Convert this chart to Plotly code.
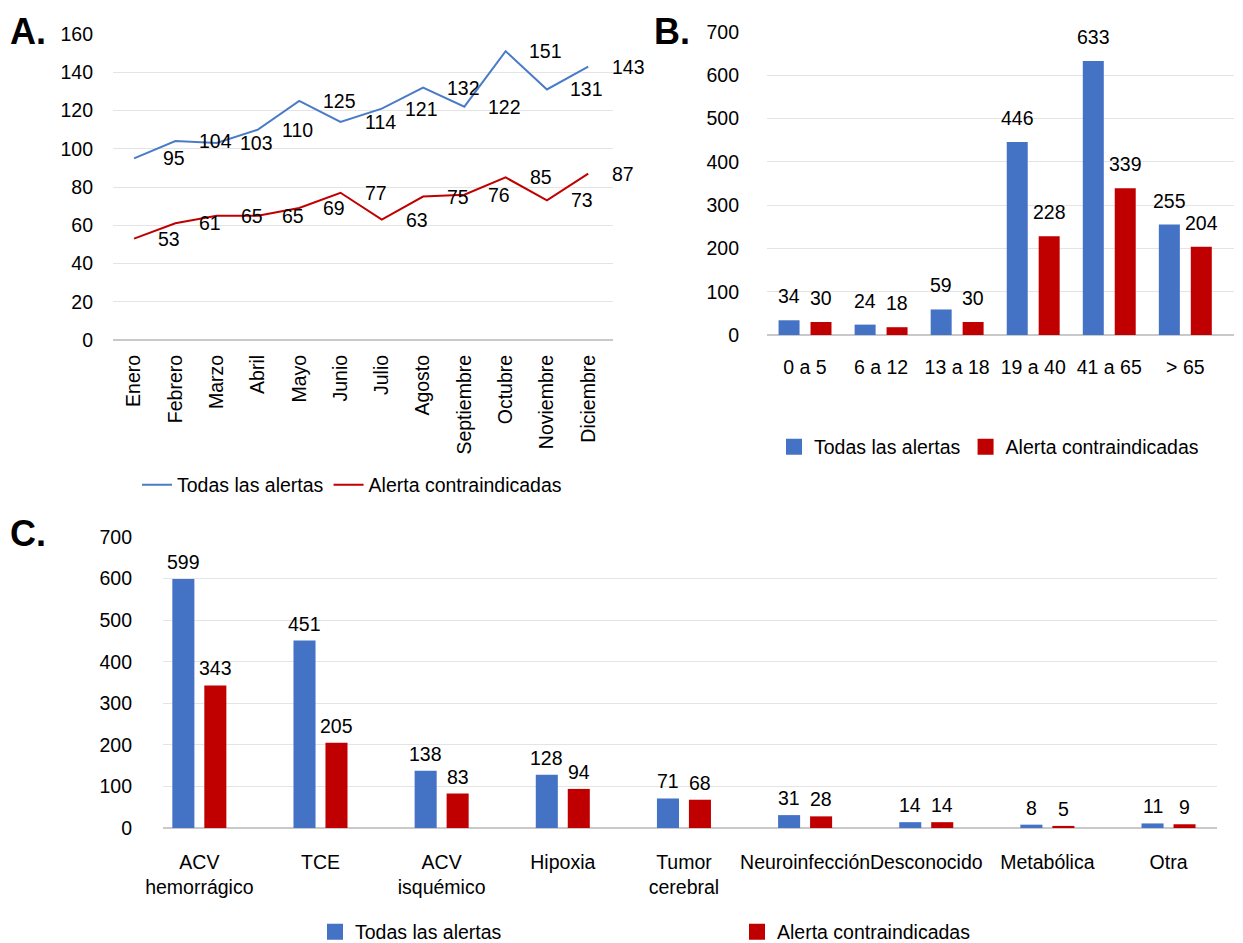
import plotly.graph_objects as go

# ---------------- data ----------------
meses = ["Enero", "Febrero", "Marzo", "Abril", "Mayo", "Junio", "Julio",
         "Agosto", "Septiembre", "Octubre", "Noviembre", "Diciembre"]
todas_mes = [95, 104, 103, 110, 125, 114, 121, 132, 122, 151, 131, 143]
contra_mes = [53, 61, 65, 65, 69, 77, 63, 75, 76, 85, 73, 87]

edades = ["0 a 5", "6 a 12", "13 a 18", "19 a 40", "41 a 65", "> 65"]
todas_edad = [34, 24, 59, 446, 633, 255]
contra_edad = [30, 18, 30, 228, 339, 204]

causas = ["ACV<br>hemorrágico", "TCE", "ACV<br>isquémico", "Hipoxia", "Tumor<br>cerebral",
          "Neuroinfección", "Desconocido", "Metabólica", "Otra"]
todas_causa = [599, 451, 138, 128, 71, 31, 14, 8, 11]
contra_causa = [343, 205, 83, 94, 68, 28, 14, 5, 9]

serie1 = "Todas las alertas"
serie2 = "Alerta contraindicadas"

# ---------------- style ----------------
PAGE_OFF = 8                      # default body margin of the html page
W, H = 1243 - PAGE_OFF, 943 - PAGE_OFF
FONT = "Liberation Sans, Arial, Helvetica, sans-serif"
BLUE = "#4472C4"
RED = "#C00000"
LINE_BLUE = "#4A7BC8"
GRID = "#E4E4E4"
ZERO = "#C9C9C9"
FS = 19.5


def fx(p):
    return (p - PAGE_OFF) / W


def fy(p):
    return 1 - (p - PAGE_OFF) / H


def px_x(a, b):
    return [fx(a), fx(b)]


def px_y(top, bottom):
    return [fy(bottom), fy(top)]


fig = go.Figure()

# ---- Panel A: lines ----
ia = list(range(len(meses)))
fig.add_trace(go.Scatter(x=ia, y=todas_mes, mode="lines", name=serie1,
                         line=dict(color=LINE_BLUE, width=2),
                         xaxis="x", yaxis="y", legend="legend"))
fig.add_trace(go.Scatter(x=ia, y=contra_mes, mode="lines", name=serie2,
                         line=dict(color=RED, width=2),
                         xaxis="x", yaxis="y", legend="legend"))

# ---- Panel B: bars by age ----
ib = list(range(len(edades)))
B_W, B_S = 0.276, 0.21
fig.add_trace(go.Bar(x=ib, y=todas_edad, width=B_W, offset=-B_S - B_W / 2,
                     marker=dict(color=BLUE, line=dict(width=0)), showlegend=False,
                     xaxis="x2", yaxis="y2", name=serie1))
fig.add_trace(go.Bar(x=ib, y=contra_edad, width=B_W, offset=B_S - B_W / 2,
                     marker=dict(color=RED, line=dict(width=0)), showlegend=False,
                     xaxis="x2", yaxis="y2", name=serie2))
fig.add_trace(go.Scatter(x=[None], y=[None], mode="markers", name=serie1,
                         marker=dict(symbol="square", size=20, color=BLUE),
                         xaxis="x2", yaxis="y2", legend="legend2"))
fig.add_trace(go.Scatter(x=[None], y=[None], mode="markers", name=serie2,
                         marker=dict(symbol="square", size=20, color=RED),
                         xaxis="x2", yaxis="y2", legend="legend2"))

# ---- Panel C: bars by cause ----
ic = list(range(len(causas)))
C_W, C_S = 0.182, 0.132
fig.add_trace(go.Bar(x=ic, y=todas_causa, width=C_W, offset=-C_S - C_W / 2,
                     marker=dict(color=BLUE, line=dict(width=0)), showlegend=False,
                     xaxis="x3", yaxis="y3", name=serie1))
fig.add_trace(go.Bar(x=ic, y=contra_causa, width=C_W, offset=C_S - C_W / 2,
                     marker=dict(color=RED, line=dict(width=0)), showlegend=False,
                     xaxis="x3", yaxis="y3", name=serie2))
fig.add_trace(go.Scatter(x=[None], y=[None], mode="markers", name=serie1,
                         marker=dict(symbol="square", size=20, color=BLUE),
                         xaxis="x3", yaxis="y3", legend="legend3"))
fig.add_trace(go.Scatter(x=[None], y=[None], mode="markers", name=serie2,
                         marker=dict(symbol="square", size=20, color=RED),
                         xaxis="x3", yaxis="y3", legend="legend3"))

annotations = []
lab_font = dict(size=FS, color="black", family=FONT)
# line labels (placed to the right of each point, as in the original)
for vals, xs in [(todas_mes, 40), (contra_mes, 35)]:
    for i, v in zip(ia, vals):
        annotations.append(dict(x=i, y=v, xref="x", yref="y", text=str(v), showarrow=False,
                                xanchor="center", yanchor="middle", xshift=xs, font=lab_font))
# bar labels
for ax, idx, vals, shift, ysh in [("2", ib, todas_edad, -B_S, 11), ("2", ib, contra_edad, B_S, 11),
                                  ("3", ic, todas_causa, -C_S, 4), ("3", ic, contra_causa, C_S, 4)]:
    for i, v in zip(idx, vals):
        annotations.append(dict(x=i + shift, y=v, xref="x" + ax, yref="y" + ax, text=str(v),
                                showarrow=False, yanchor="bottom", yshift=ysh, font=lab_font))

for letter, x, y in [("A.", 8, 32), ("B.", 652, 32), ("C.", 8, 533)]:
    annotations.append(dict(x=fx(x), y=fy(y), xref="paper", yref="paper", text="<b>%s</b>" % letter,
                            showarrow=False, xanchor="left", yanchor="middle",
                            font=dict(size=36, color="black", family=FONT)))

yax_common = dict(showgrid=True, gridcolor=GRID, gridwidth=1, zeroline=True, zerolinecolor=ZERO,
                  zerolinewidth=1.5, showline=False, ticks="", automargin=False,
                  tickfont=dict(size=FS, color="black"))
xax_common = dict(showgrid=False, zeroline=False, showline=False, ticks="", automargin=False,
                  tickfont=dict(size=FS, color="black"))

fig.update_layout(
    width=W, height=H, margin=dict(l=0, r=0, t=0, b=0, autoexpand=False),
    paper_bgcolor="white", plot_bgcolor="white",
    font=dict(family=FONT, size=FS, color="black"),
    barmode="overlay",
    xaxis=dict(domain=px_x(113, 613), range=[-0.51, 11.6], tickvals=ia, ticktext=meses,
               tickangle=-90, ticklabelstandoff=10, anchor="y", **xax_common),
    yaxis=dict(domain=px_y(34, 340), range=[0, 160], dtick=20, ticklabelstandoff=19,
               anchor="x", **yax_common),
    xaxis2=dict(domain=px_x(767, 1234), range=[-0.5, 5.64], tickvals=ib, ticktext=edades,
                tickangle=0, ticklabelstandoff=18, anchor="y2", **xax_common),
    yaxis2=dict(domain=px_y(32, 335), range=[0, 700], dtick=100, ticklabelstandoff=27,
                anchor="x2", **yax_common),
    xaxis3=dict(domain=px_x(163, 1217), range=[-0.3, 8.4], tickvals=ic, ticktext=causas,
                tickangle=0, ticklabelstandoff=20, anchor="y3", **xax_common),
    yaxis3=dict(domain=px_y(537, 828), range=[0, 700], dtick=100, ticklabelstandoff=30,
                anchor="x3", **yax_common),
    legend=dict(orientation="h", x=fx(352), y=fy(485), xanchor="center", yanchor="middle",
                font=dict(size=FS), bgcolor="rgba(0,0,0,0)"),
    legend2=dict(orientation="h", x=fx(989), y=fy(447), xanchor="center", yanchor="middle",
                 font=dict(size=FS), bgcolor="rgba(0,0,0,0)"),
    legend3=dict(orientation="h", x=fx(737), y=fy(932), xanchor="center", yanchor="middle",
                 font=dict(size=FS), bgcolor="rgba(0,0,0,0)", entrywidth=377,
                 entrywidthmode="pixels"),
    annotations=annotations,
    showlegend=True,
)

fig.write_html("out.html")
